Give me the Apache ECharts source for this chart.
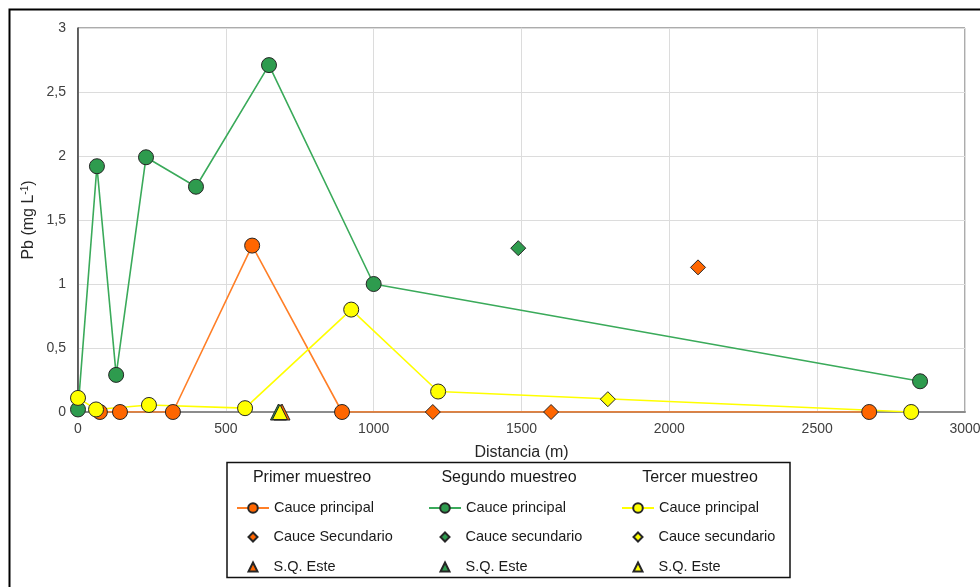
<!DOCTYPE html>
<html>
<head>
<meta charset="utf-8">
<script src="https://cdn.jsdelivr.net/npm/echarts@6/dist/echarts.min.js"></script>
<style>
html,body{margin:0;padding:0;background:#fff;}
#chart{width:980px;height:587px;}
</style>
</head>
<body>
<div id="chart"></div>
<script>
// ---- data (distance m, Pb mg/L) ----
const primerPrincipal = [[74,0],[142,0],[321,0],[589,1.30],[893,0],[2676,0]];
const segundoPrincipal = [[0,0.02],[64,1.92],[129,0.29],[230,1.99],[399,1.76],[646,2.71],[1000,1.0],[2848,0.24]];
const tercerPrincipal = [[0,0.11],[61,0.02],[240,0.055],[565,0.03],[924,0.80],[1218,0.16],[2818,0]];
const primerSecundario = [[1200,0],[1600,0],[2097,1.13]];
const segundoSecundario = [[1489,1.28]];
const tercerSecundario = [[1792,0.10]];
const primerSQ = [[690,0]];
const segundoSQ = [[678,0]];
const tercerSQ = [[683,0]];

const headers = ['Primer muestreo','Segundo muestreo','Tercer muestreo'];
const itemLabels = {
  p1:'Cauce principal', p2:'Cauce Secundario', p3:'S.Q. Este',
  s1:'Cauce principal', s2:'Cauce secundario', s3:'S.Q. Este',
  t1:'Cauce principal', t2:'Cauce secundario', t3:'S.Q. Este'
};
const xAxisTitle = 'Distancia (m)';

// ---- styling ----
const C = {
  orangeFill:'#FF6600', orangeLine:'#FF7F27',
  greenFill:'#2E9B4E', greenLine:'#3AAA5A',
  yellowFill:'#FFFF00', yellowLine:'#FFFF00',
  edge:'#262626'
};
const font = 'Liberation Sans, Arial, sans-serif';

function lineSeries(name, data, fill, line){
  return {name, type:'line', data, symbol:'circle', symbolSize:15,
    lineStyle:{color:line, width:1.6},
    itemStyle:{color:fill, borderColor:C.edge, borderWidth:1},
    emphasis:{disabled:true}, animation:false};
}
function scatterSeries(name, data, fill, symbol, size, z){
  return {name, type:'scatter', data, symbol, symbolSize:size, z:z||3,
    itemStyle:{color:fill, borderColor:C.edge, borderWidth:1, opacity:1},
    emphasis:{disabled:true}, animation:false};
}

const chart = echarts.init(document.getElementById('chart'), null, {renderer:'canvas'});

const legendText = {fontFamily:font, fontSize:14.5, color:'#1a1a1a'};
function legendLine(left, name){
  return {
    orient:'vertical', left, top:500.5, padding:0,
    itemWidth:32, itemHeight:12,
    data:[name], formatter:n=>itemLabels[n],
    textStyle:legendText, selectedMode:false
  };
}
function legendMarks(left, names){
  return {
    orient:'vertical', left:left+11.5, top:529.5, padding:0,
    itemWidth:9, itemHeight:9, itemGap:15,
    data:names, formatter:n=>itemLabels[n],
    textStyle:Object.assign({}, legendText, {padding:[0,0,0,11]}),
    selectedMode:false
  };
}

chart.setOption({
  animation:false,
  backgroundColor:'#fff',
  textStyle:{fontFamily:font},
  grid:{left:78, right:15, top:28, bottom:175, show:true, borderColor:'#595959', borderWidth:1,
    containLabel:false, outerBoundsMode:'none'},
  xAxis:{
    type:'value', min:0, max:3000, interval:500,
    name:xAxisTitle, nameLocation:'middle', nameGap:33,
    nameTextStyle:{fontFamily:font, fontSize:16, color:'#262626'},
    axisLine:{show:true, onZero:false, lineStyle:{color:'#8c8c8c', width:2}},
    axisTick:{show:false},
    axisLabel:{fontFamily:font, fontSize:14, color:'#404040', margin:10,
      formatter:v=>String(v)},
    splitLine:{show:true, lineStyle:{color:'#dcdcdc', width:1}}
  },
  yAxis:{
    type:'value', min:0, max:3, interval:0.5,
    name:'{n|Pb (mg L}{s|-1}{n|)}', nameLocation:'middle', nameGap:40, nameRotate:90,
    nameMoveOverlap:false,
    nameTextStyle:{fontFamily:font, fontSize:16, color:'#262626',
      rich:{n:{fontFamily:font, fontSize:16, color:'#262626'},
            s:{fontFamily:font, fontSize:10, color:'#262626', verticalAlign:'top', padding:[0,0,8,0]}}},
    axisLine:{show:true, lineStyle:{color:'#404040', width:1.5}},
    axisTick:{show:false},
    axisLabel:{fontFamily:font, fontSize:14, color:'#404040', margin:12,
      formatter:v=>String(v).replace('.', ',')},
    splitLine:{show:true, lineStyle:{color:'#dcdcdc', width:1}}
  },
  legend:[
    legendLine(236, 'p1'), legendMarks(236, ['p2','p3']),
    legendLine(428, 's1'), legendMarks(428, ['s2','s3']),
    legendLine(621, 't1'), legendMarks(621, ['t2','t3'])
  ],
  graphic:[
    {type:'rect', left:7, top:7, shape:{x:0,y:0,width:1000,height:620}, style:{fill:null, stroke:'#000', lineWidth:2}, silent:true, z:-10},
    {type:'rect', shape:{x:227,y:462.5,width:563,height:115}, style:{fill:'#fff', stroke:'#111', lineWidth:1.5}, silent:true, z:-5},
    {type:'text', x:312, y:478, style:{text:headers[0], font:'16px '+font, fill:'#1a1a1a', align:'center', verticalAlign:'middle'}, silent:true},
    {type:'text', x:509, y:478, style:{text:headers[1], font:'16px '+font, fill:'#1a1a1a', align:'center', verticalAlign:'middle'}, silent:true},
    {type:'text', x:700, y:478, style:{text:headers[2], font:'16px '+font, fill:'#1a1a1a', align:'center', verticalAlign:'middle'}, silent:true}
  ],
  series:[
    lineSeries('p1', primerPrincipal, C.orangeFill, C.orangeLine),
    lineSeries('s1', segundoPrincipal, C.greenFill, C.greenLine),
    lineSeries('t1', tercerPrincipal, C.yellowFill, C.yellowLine),
    scatterSeries('p2', primerSecundario, C.orangeFill, 'diamond', 15),
    scatterSeries('s2', segundoSecundario, C.greenFill, 'diamond', 15),
    scatterSeries('t2', tercerSecundario, C.yellowFill, 'diamond', 15),
    scatterSeries('s3', segundoSQ, C.greenFill, 'triangle', 16, 4),
    scatterSeries('p3', primerSQ, C.orangeFill, 'triangle', 16, 5),
    scatterSeries('t3', tercerSQ, C.yellowFill, 'triangle', 15, 6)
  ]
});
</script>
</body>
</html>
